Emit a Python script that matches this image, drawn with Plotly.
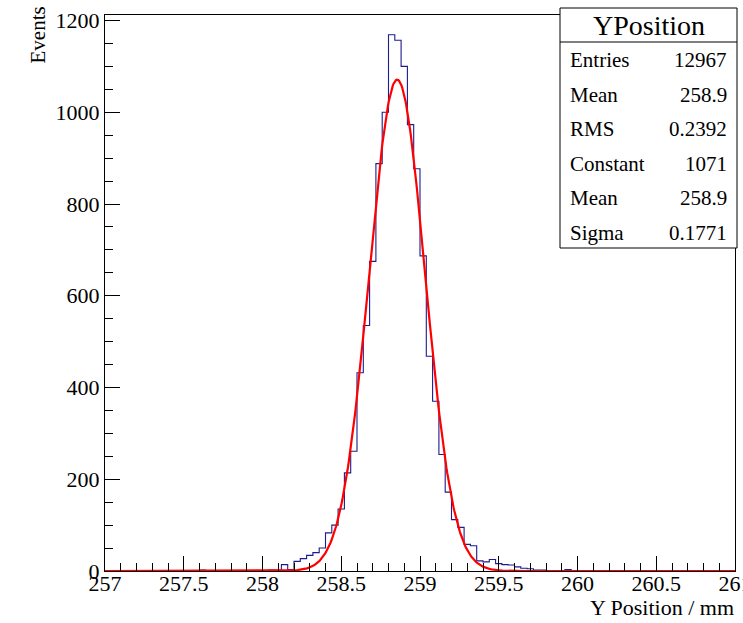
import numpy as np
import plotly.graph_objects as go

# ---------------- data ----------------
bin_low = 257.0
bin_width = 0.04
n_bins = 100
# nonzero bin contents (bin index -> events)
bin_index = [15, 26, 27, 28, 29, 30, 31, 32, 33, 34, 35, 36, 37, 38, 39, 40, 41, 42, 43, 44,
             45, 46, 47, 48, 49, 50, 51, 52, 53, 54, 55, 56, 57, 58, 59, 60, 61, 62, 63, 64,
             65, 66, 67, 68, 69, 70, 73, 74]
bin_counts = [2, 2, 2, 14, 3, 21, 27, 34, 40, 50, 83, 100, 135, 214, 261, 432, 535, 675, 888, 1000,
              1169, 1157, 1100, 973, 877, 687, 468, 370, 254, 172, 112, 95, 58, 55, 22, 20, 25, 16, 14, 13,
              9, 6, 5, 2, 2, 1, 3, 1]

# fit parameters (gaussian) as shown in the stats box
fit_constant = 1071
fit_mean = 258.855
fit_sigma = 0.1771

stats_title = "YPosition"
stats_labels = ["Entries", "Mean", "RMS", "Constant", "Mean", "Sigma"]
stats_values = ["12967", "258.9", "0.2392", "1071", "258.9", "0.1771"]

x_title = "Y Position / mm"
y_title = "Events"

# ---------------- build ----------------
counts = np.zeros(n_bins)
for i, c in zip(bin_index, bin_counts):
    counts[i] = c
edges = bin_low + bin_width * np.arange(n_bins + 1)
step_x = np.concatenate([[edges[0]], edges[:-1], [edges[-1]], [edges[-1]]])
step_y = np.concatenate([[0], counts, [counts[-1]], [0]])

fx = np.linspace(edges[0], edges[-1], 800)
fy = fit_constant * np.exp(-0.5 * ((fx - fit_mean) / fit_sigma) ** 2)

FONT = "Liberation Serif"
W, H = 743, 623
L, R, T, B = 105, 735, 15, 571


def px(x):
    return (x - L) / (R - L)


def py(y):
    return (B - y) / (B - T)


fig = go.Figure()
fig.add_trace(go.Scatter(x=step_x, y=step_y, mode="lines", line_shape="hv",
                         line=dict(color="#1c1c8e", width=1.1), hoverinfo="skip", showlegend=False))
fig.add_trace(go.Scatter(x=fx, y=fy, mode="lines",
                         line=dict(color="#ff0000", width=2.2), hoverinfo="skip", showlegend=False))

fig.update_layout(
    width=W, height=H,
    margin=dict(l=L, r=W - R, t=T, b=H - B, autoexpand=False),
    paper_bgcolor="white", plot_bgcolor="white",
    font=dict(family=FONT, size=22, color="black"),
    showlegend=False,
)
fig.update_xaxes(range=[257, 261], dtick=0.5, tick0=257, showgrid=False, zeroline=False,
                 showline=True, linecolor="black", linewidth=1, mirror=True,
                 ticks="inside", ticklen=15, tickcolor="black", tickwidth=1,
                 minor=dict(dtick=0.1, ticks="inside", ticklen=8, tickcolor="black", tickwidth=1),
                 tickfont=dict(family=FONT, size=22), ticklabeloverflow="allow",
                 ticklabelstandoff=-7, automargin=False)
fig.update_yaxes(range=[0, 1212], dtick=200, showgrid=False, zeroline=False,
                 showline=True, linecolor="black", linewidth=1, mirror=True,
                 ticks="inside", ticklen=15, tickcolor="black", tickwidth=1,
                 minor=dict(dtick=50, ticks="inside", ticklen=8, tickcolor="black", tickwidth=1),
                 tickfont=dict(family=FONT, size=22), automargin=False)

# stats box
bx0, bx1, by0, by1, bsep = 560, 737, 8, 248, 42
fig.add_shape(type="rect", xref="paper", yref="paper", x0=px(bx0), x1=px(bx1), y0=py(by1), y1=py(by0),
              line=dict(color="black", width=1), fillcolor="white", layer="above")
fig.add_shape(type="line", xref="paper", yref="paper", x0=px(bx0), x1=px(bx1), y0=py(bsep), y1=py(bsep),
              line=dict(color="black", width=1), layer="above")
fig.add_annotation(xref="paper", yref="paper", x=px((bx0 + bx1) / 2), y=py(25), text=stats_title,
                   showarrow=False, xanchor="center", yanchor="middle", font=dict(family=FONT, size=28))
row_y0, row_dy = 60, 34.6
for i, (lab, val) in enumerate(zip(stats_labels, stats_values)):
    yy = row_y0 + i * row_dy
    fig.add_annotation(xref="paper", yref="paper", x=px(bx0 + 8), y=py(yy), text=lab, showarrow=False,
                       xanchor="left", yanchor="middle", font=dict(family=FONT, size=21))
    fig.add_annotation(xref="paper", yref="paper", x=px(bx1 - 8), y=py(yy), text=val, showarrow=False,
                       xanchor="right", yanchor="middle", font=dict(family=FONT, size=21))

# axis titles
fig.add_annotation(xref="paper", yref="paper", x=px(736), y=py(607), text=x_title, showarrow=False,
                   xanchor="right", yanchor="middle", font=dict(family=FONT, size=22))
fig.add_annotation(xref="paper", yref="paper", x=px(38), y=py(5), text=y_title, showarrow=False,
                   textangle=-90, xanchor="center", yanchor="top", font=dict(family=FONT, size=21))

fig.write_html("out.html")
